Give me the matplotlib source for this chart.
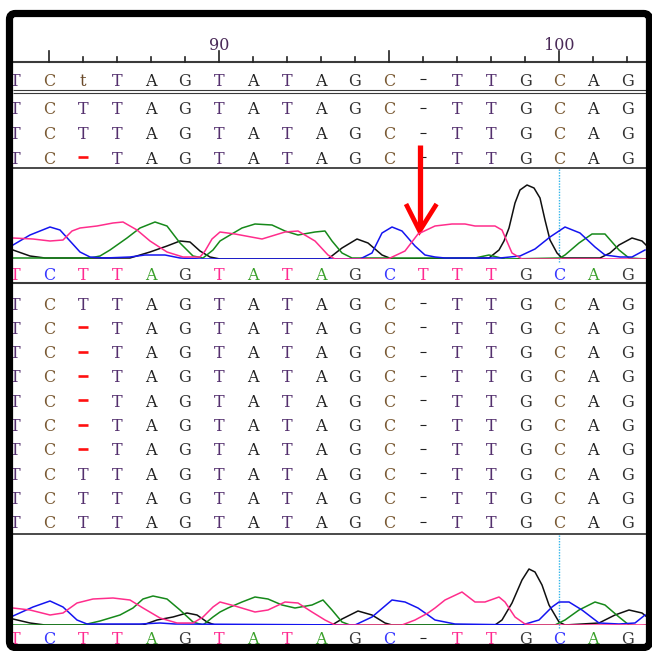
import matplotlib.pyplot as plt
from matplotlib.patches import FancyBboxPatch

# alignment data
positions = list(range(84, 103))
ruler_labels = [90, 100]
consensus = "TCtTAGTATAGC-TTGCAG"
top_rows = ["TCTTAGTATAGC-TTGCAG",
            "TCTTAGTATAGC-TTGCAG",
            "TC-TAGTATAGC-TTGCAG"]
calls1 = "TCTTAGTATAGCTTTGCAG"
bottom_rows = ["TCTTAGTATAGC-TTGCAG",
               "TC-TAGTATAGC-TTGCAG",
               "TC-TAGTATAGC-TTGCAG",
               "TC-TAGTATAGC-TTGCAG",
               "TC-TAGTATAGC-TTGCAG",
               "TC-TAGTATAGC-TTGCAG",
               "TC-TAGTATAGC-TTGCAG",
               "TCTTAGTATAGC-TTGCAG",
               "TCTTAGTATAGC-TTGCAG",
               "TCTTAGTATAGC-TTGCAG"]
calls2 = "TCTTAGTATAGC-TTGCAG"
marked_pos = 96      # red arrow
cursor_pos = 100     # dotted cyan line

# chromatogram traces: (scan, signal)
tr1_A = [(13, 1), (90, 1), (100, 3), (110, 9), (127, 21), (140, 31), (155, 37), (167, 33), (180, 16),
         (193, 3), (203, 1), (213, 9), (220, 18), (225, 21), (242, 31), (255, 35), (272, 34), (285, 28),
         (298, 24), (315, 27), (325, 28), (332, 18), (342, 6), (352, 1), (475, 1), (489, 4), (505, 0),
         (560, 1), (565, 4), (579, 16), (592, 25), (605, 25), (619, 9), (629, 1), (647, 0)]
tr1_C = [(13, 14), (30, 24), (50, 32), (60, 29), (70, 18), (80, 7), (90, 2), (105, 1), (130, 2), (145, 4),
         (165, 4), (180, 1), (200, 0), (360, 0), (372, 6), (382, 26), (392, 32), (402, 28), (415, 13),
         (425, 4), (435, 2), (445, 1), (500, 1), (520, 3), (535, 10), (550, 22), (565, 32), (580, 26),
         (595, 12), (605, 4), (620, 2), (632, 2), (645, 9)]
tr1_G = [(13, 9), (30, 3), (45, 1), (130, 1), (150, 7), (167, 13), (180, 18), (190, 17), (200, 8),
         (210, 2), (220, 0), (328, 0), (342, 11), (357, 20), (368, 16), (382, 4), (392, 0), (489, 1),
         (499, 9), (504, 18), (509, 31), (515, 56), (520, 69), (527, 74), (534, 71), (540, 61), (545, 39),
         (550, 19), (557, 6), (562, 1), (600, 1), (610, 6), (619, 14), (632, 21), (642, 18), (647, 13)]
tr1_T = [(13, 21), (33, 20), (50, 18), (63, 19), (72, 28), (80, 31), (97, 33), (113, 36), (123, 37),
         (137, 29), (150, 18), (167, 7), (183, 2), (200, 2), (205, 8), (212, 20), (220, 27), (235, 25),
         (262, 20), (285, 27), (298, 28), (315, 18), (328, 4), (335, 0), (388, 0), (405, 8), (418, 25),
         (435, 33), (452, 35), (465, 35), (475, 33), (495, 33), (502, 29), (512, 6), (522, 0), (647, 0)]

tr2_A = [(13, 0), (83, 0), (100, 4), (120, 10), (133, 17), (143, 26), (153, 29), (167, 26), (180, 15),
         (193, 3), (203, 0), (213, 8), (220, 13), (228, 17), (242, 23), (255, 28), (268, 26), (282, 20),
         (295, 17), (312, 20), (323, 25), (332, 15), (342, 3), (350, 0), (555, 0), (565, 5), (579, 15),
         (595, 23), (605, 20), (619, 8), (629, 0), (640, -1), (647, 0)]
tr2_C = [(13, 9), (33, 18), (50, 24), (63, 18), (77, 5), (87, 1), (140, 1), (160, 2), (175, 1), (355, 0),
         (372, 8), (392, 25), (405, 23), (418, 17), (428, 10), (435, 5), (445, 3), (455, 1), (522, 0),
         (539, 5), (552, 18), (559, 23), (569, 23), (582, 15), (599, 2), (619, 1), (635, 2), (645, 10)]
tr2_G = [(13, 6), (30, 2), (45, 0), (143, 0), (157, 5), (173, 8), (187, 12), (197, 10), (207, 3),
         (215, 0), (332, 0), (342, 6), (358, 14), (372, 10), (385, 2), (392, 0), (495, 0), (502, 5),
         (512, 22), (522, 45), (529, 56), (535, 53), (542, 40), (549, 20), (559, 3), (565, 0), (599, 2),
         (615, 10), (629, 15), (642, 12), (647, 8)]
tr2_T = [(13, 17), (30, 15), (50, 10), (63, 12), (77, 22), (93, 26), (113, 27), (130, 25), (143, 17),
         (160, 7), (177, 2), (193, 2), (203, 8), (213, 18), (220, 23), (235, 19), (255, 13), (268, 15),
         (285, 23), (298, 22), (312, 13), (325, 5), (335, 0), (402, 0), (415, 5), (428, 12), (435, 17),
         (445, 25), (462, 33), (475, 23), (485, 23), (499, 28), (505, 23), (515, 8), (525, 1), (535, 0),
         (647, 0)]

W, H = 652, 651
fig = plt.figure(figsize=(W / 100, H / 100), dpi=100)

# layout axes in pixels
frame = fig.add_axes([0, 0, 1, 1])
frame.set_xlim(0, W)
frame.set_ylim(H, 0)
frame.axis('off')

# alignment axes: x in base positions (34 px per base, pos 90 at x=219)
aln = fig.add_axes([0, 0, 1, 1])
aln.set_xlim(90 - 219 / 34, 90 + (W - 219) / 34)
aln.set_ylim(H, 0)
aln.axis('off')
aln.patch.set_alpha(0)

font = 'DejaVu Serif'
fs = 11.5
row_col = {'T': '#54306e', 'C': '#7a5a34', 'A': '#222222', 'G': '#333333', 't': '#6a4a2a', '-': '#222222'}
call_col = {'T': '#ff2a90', 'C': '#3838ff', 'A': '#3aa02a', 'G': '#3c3c3c', '-': '#222222'}
trace_col = {'A': '#16891a', 'C': '#1414f0', 'G': '#101010', 'T': '#ff2d8c'}


def draw_row(seq, y, colors, red_gap=False):
    for p, b in zip(positions, seq):
        if b == '-' and red_gap and p == 86:
            aln.plot([p - 0.14, p + 0.14], [y, y], color='#ff1010', lw=1.9, solid_capstyle='butt')
        elif b == '-':
            aln.plot([p - 0.1, p + 0.1], [y, y], color=colors[b], lw=0.8, solid_capstyle='butt')
        else:
            aln.text(p, y, b, color=colors[b], fontsize=fs, family=font,
                     ha='center', va='center_baseline')


# separators
line_c = '#3a3a3a'
for y, lw in [(62, 1.5), (90, 0.8), (93, 0.8), (168, 1.3), (283, 1.5), (534, 1.3)]:
    frame.plot([13, 647], [y, y], color=line_c, lw=lw, solid_capstyle='butt')

# ruler
for p in positions[1:]:
    top = 51 if p % 5 == 0 else 57
    aln.plot([p, p], [top, 62], color='#222222', lw=1.2)
for v in ruler_labels:
    aln.text(v, 43, str(v), color='#4a2a58', fontsize=fs, family=font, ha='center', va='center_baseline')

draw_row(consensus, 79, row_col)
for y, seq in zip([108, 132.5, 157], top_rows):
    draw_row(seq, y, row_col, red_gap=True)
draw_row(calls1, 273, call_col)
for i, seq in enumerate(bottom_rows):
    draw_row(seq, 303 + i * 24.3, row_col, red_gap=True)
draw_row(calls2, 638, call_col)

# chromatograms
for top, base, traces in [(168, 259, (tr1_G, tr1_A, tr1_C, tr1_T)),
                          (534, 625, (tr2_G, tr2_A, tr2_C, tr2_T))]:
    ch = fig.add_axes([13 / W, (H - base) / H, 634 / W, (base - top) / H])
    ch.set_xlim(13, 647)
    ch.set_ylim(0, base - top)
    ch.axis('off')
    ch.patch.set_alpha(0)
    for b, tr in zip('GACT', traces):
        ch.plot([s for s, v in tr], [v for s, v in tr], color=trace_col[b], lw=1.1)
    aln.plot([cursor_pos, cursor_pos], [top + 1, base + 3], color='#30b4e8', lw=1, ls=(0, (1, 1)))

# red arrow
aln.plot([marked_pos - 0.1, marked_pos - 0.1], [145, 228], color='#ff0000', lw=3.8, solid_capstyle='butt')
aln.plot([marked_pos - 0.5, marked_pos - 0.1, marked_pos + 0.4], [204, 231, 204], color='#ff0000',
         lw=3.4, solid_joinstyle='miter', solid_capstyle='butt')

# outer frame
top_ax = fig.add_axes([0, 0, 1, 1])
top_ax.set_xlim(0, W)
top_ax.set_ylim(H, 0)
top_ax.axis('off')
top_ax.patch.set_alpha(0)
top_ax.add_patch(FancyBboxPatch((9.5, 13.5), 640, 634, boxstyle='round,pad=0,rounding_size=6',
                                fill=False, ec='black', lw=5.2))

fig.savefig('out.png', dpi=100)
